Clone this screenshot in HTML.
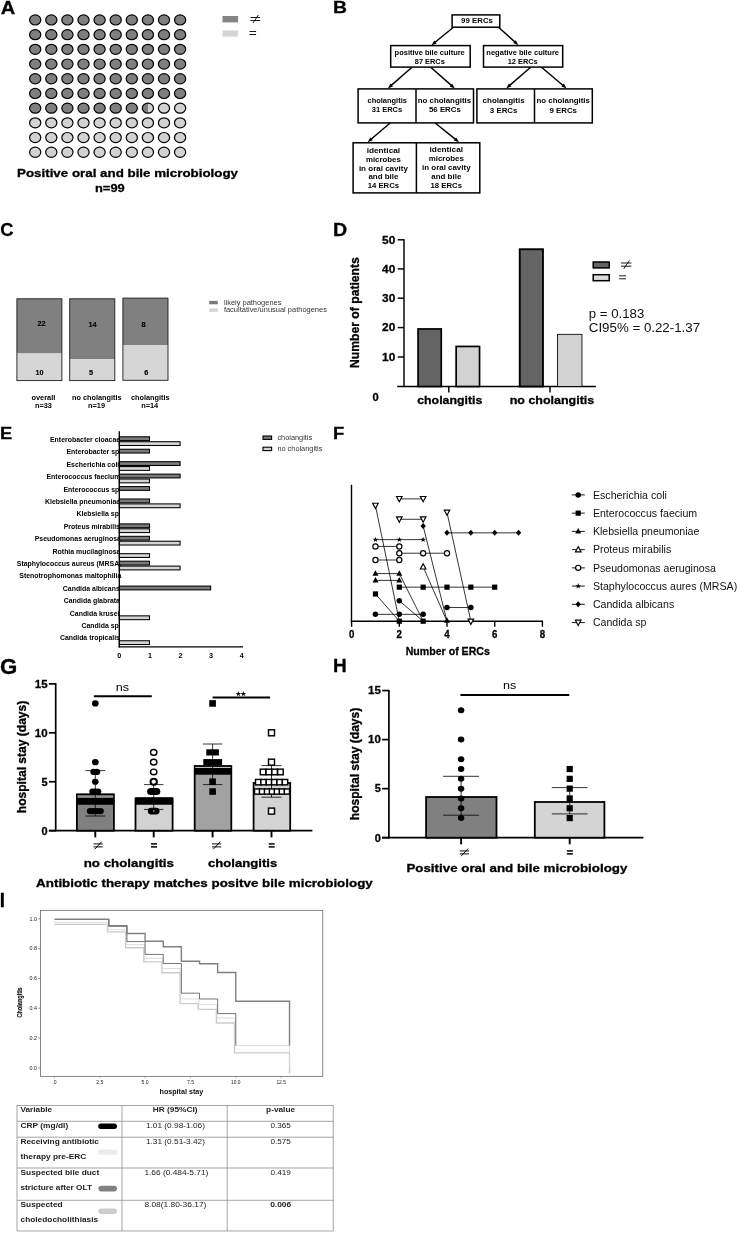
<!DOCTYPE html>
<html><head><meta charset="utf-8"><title>Figure</title>
<style>
html,body{margin:0;padding:0;background:#fff;}
svg{display:block;font-family:"Liberation Sans",sans-serif;filter:grayscale(1);}
</style></head><body>
<svg width="738" height="1239" viewBox="0 0 738 1239">
<rect x="0" y="0" width="738" height="1239" fill="#fff"/>
<text transform="translate(0.70 14.10) scale(0.2012 0.1875)" font-size="100" font-weight="700" stroke="#000" stroke-width="1.5">A</text>
<text transform="translate(333.00 13.45) scale(0.1934 0.1679)" font-size="100" font-weight="700" stroke="#000" stroke-width="1.5">B</text>
<text transform="translate(0.15 235.62) scale(0.1835 0.1808)" font-size="100" font-weight="700" stroke="#000" stroke-width="1.5">C</text>
<text transform="translate(332.99 235.80) scale(0.1958 0.1817)" font-size="100" font-weight="700" stroke="#000" stroke-width="1.5">D</text>
<text transform="translate(-0.03 438.70) scale(0.1836 0.1715)" font-size="100" font-weight="700" stroke="#000" stroke-width="1.5">E</text>
<text transform="translate(333.06 438.90) scale(0.1854 0.1730)" font-size="100" font-weight="700" stroke="#000" stroke-width="1.5">F</text>
<text transform="translate(-0.01 674.19) scale(0.2222 0.2119)" font-size="100" font-weight="700" stroke="#000" stroke-width="1.5">G</text>
<text transform="translate(333.02 671.90) scale(0.1905 0.1773)" font-size="100" font-weight="700" stroke="#000" stroke-width="1.5">H</text>
<text transform="translate(-0.26 906.80) scale(0.1875 0.2064)" font-size="100" font-weight="700" stroke="#000" stroke-width="1.5">I</text>
<defs><linearGradient id="half" x1="0" x2="1" y1="0" y2="0"><stop offset="0.5" stop-color="#7f7f7f"/><stop offset="0.5" stop-color="#d2d2d2"/></linearGradient></defs>
<ellipse cx="35.20" cy="19.95" rx="5.6" ry="5.05" fill="#7f7f7f" stroke="#000" stroke-width="1.2"/>
<ellipse cx="51.30" cy="19.95" rx="5.6" ry="5.05" fill="#7f7f7f" stroke="#000" stroke-width="1.2"/>
<ellipse cx="67.40" cy="19.95" rx="5.6" ry="5.05" fill="#7f7f7f" stroke="#000" stroke-width="1.2"/>
<ellipse cx="83.50" cy="19.95" rx="5.6" ry="5.05" fill="#7f7f7f" stroke="#000" stroke-width="1.2"/>
<ellipse cx="99.60" cy="19.95" rx="5.6" ry="5.05" fill="#7f7f7f" stroke="#000" stroke-width="1.2"/>
<ellipse cx="115.70" cy="19.95" rx="5.6" ry="5.05" fill="#7f7f7f" stroke="#000" stroke-width="1.2"/>
<ellipse cx="131.80" cy="19.95" rx="5.6" ry="5.05" fill="#7f7f7f" stroke="#000" stroke-width="1.2"/>
<ellipse cx="147.90" cy="19.95" rx="5.6" ry="5.05" fill="#7f7f7f" stroke="#000" stroke-width="1.2"/>
<ellipse cx="164.00" cy="19.95" rx="5.6" ry="5.05" fill="#7f7f7f" stroke="#000" stroke-width="1.2"/>
<ellipse cx="180.10" cy="19.95" rx="5.6" ry="5.05" fill="#7f7f7f" stroke="#000" stroke-width="1.2"/>
<ellipse cx="35.20" cy="34.65" rx="5.6" ry="5.05" fill="#7f7f7f" stroke="#000" stroke-width="1.2"/>
<ellipse cx="51.30" cy="34.65" rx="5.6" ry="5.05" fill="#7f7f7f" stroke="#000" stroke-width="1.2"/>
<ellipse cx="67.40" cy="34.65" rx="5.6" ry="5.05" fill="#7f7f7f" stroke="#000" stroke-width="1.2"/>
<ellipse cx="83.50" cy="34.65" rx="5.6" ry="5.05" fill="#7f7f7f" stroke="#000" stroke-width="1.2"/>
<ellipse cx="99.60" cy="34.65" rx="5.6" ry="5.05" fill="#7f7f7f" stroke="#000" stroke-width="1.2"/>
<ellipse cx="115.70" cy="34.65" rx="5.6" ry="5.05" fill="#7f7f7f" stroke="#000" stroke-width="1.2"/>
<ellipse cx="131.80" cy="34.65" rx="5.6" ry="5.05" fill="#7f7f7f" stroke="#000" stroke-width="1.2"/>
<ellipse cx="147.90" cy="34.65" rx="5.6" ry="5.05" fill="#7f7f7f" stroke="#000" stroke-width="1.2"/>
<ellipse cx="164.00" cy="34.65" rx="5.6" ry="5.05" fill="#7f7f7f" stroke="#000" stroke-width="1.2"/>
<ellipse cx="180.10" cy="34.65" rx="5.6" ry="5.05" fill="#7f7f7f" stroke="#000" stroke-width="1.2"/>
<ellipse cx="35.20" cy="49.35" rx="5.6" ry="5.05" fill="#7f7f7f" stroke="#000" stroke-width="1.2"/>
<ellipse cx="51.30" cy="49.35" rx="5.6" ry="5.05" fill="#7f7f7f" stroke="#000" stroke-width="1.2"/>
<ellipse cx="67.40" cy="49.35" rx="5.6" ry="5.05" fill="#7f7f7f" stroke="#000" stroke-width="1.2"/>
<ellipse cx="83.50" cy="49.35" rx="5.6" ry="5.05" fill="#7f7f7f" stroke="#000" stroke-width="1.2"/>
<ellipse cx="99.60" cy="49.35" rx="5.6" ry="5.05" fill="#7f7f7f" stroke="#000" stroke-width="1.2"/>
<ellipse cx="115.70" cy="49.35" rx="5.6" ry="5.05" fill="#7f7f7f" stroke="#000" stroke-width="1.2"/>
<ellipse cx="131.80" cy="49.35" rx="5.6" ry="5.05" fill="#7f7f7f" stroke="#000" stroke-width="1.2"/>
<ellipse cx="147.90" cy="49.35" rx="5.6" ry="5.05" fill="#7f7f7f" stroke="#000" stroke-width="1.2"/>
<ellipse cx="164.00" cy="49.35" rx="5.6" ry="5.05" fill="#7f7f7f" stroke="#000" stroke-width="1.2"/>
<ellipse cx="180.10" cy="49.35" rx="5.6" ry="5.05" fill="#7f7f7f" stroke="#000" stroke-width="1.2"/>
<ellipse cx="35.20" cy="64.05" rx="5.6" ry="5.05" fill="#7f7f7f" stroke="#000" stroke-width="1.2"/>
<ellipse cx="51.30" cy="64.05" rx="5.6" ry="5.05" fill="#7f7f7f" stroke="#000" stroke-width="1.2"/>
<ellipse cx="67.40" cy="64.05" rx="5.6" ry="5.05" fill="#7f7f7f" stroke="#000" stroke-width="1.2"/>
<ellipse cx="83.50" cy="64.05" rx="5.6" ry="5.05" fill="#7f7f7f" stroke="#000" stroke-width="1.2"/>
<ellipse cx="99.60" cy="64.05" rx="5.6" ry="5.05" fill="#7f7f7f" stroke="#000" stroke-width="1.2"/>
<ellipse cx="115.70" cy="64.05" rx="5.6" ry="5.05" fill="#7f7f7f" stroke="#000" stroke-width="1.2"/>
<ellipse cx="131.80" cy="64.05" rx="5.6" ry="5.05" fill="#7f7f7f" stroke="#000" stroke-width="1.2"/>
<ellipse cx="147.90" cy="64.05" rx="5.6" ry="5.05" fill="#7f7f7f" stroke="#000" stroke-width="1.2"/>
<ellipse cx="164.00" cy="64.05" rx="5.6" ry="5.05" fill="#7f7f7f" stroke="#000" stroke-width="1.2"/>
<ellipse cx="180.10" cy="64.05" rx="5.6" ry="5.05" fill="#7f7f7f" stroke="#000" stroke-width="1.2"/>
<ellipse cx="35.20" cy="78.75" rx="5.6" ry="5.05" fill="#7f7f7f" stroke="#000" stroke-width="1.2"/>
<ellipse cx="51.30" cy="78.75" rx="5.6" ry="5.05" fill="#7f7f7f" stroke="#000" stroke-width="1.2"/>
<ellipse cx="67.40" cy="78.75" rx="5.6" ry="5.05" fill="#7f7f7f" stroke="#000" stroke-width="1.2"/>
<ellipse cx="83.50" cy="78.75" rx="5.6" ry="5.05" fill="#7f7f7f" stroke="#000" stroke-width="1.2"/>
<ellipse cx="99.60" cy="78.75" rx="5.6" ry="5.05" fill="#7f7f7f" stroke="#000" stroke-width="1.2"/>
<ellipse cx="115.70" cy="78.75" rx="5.6" ry="5.05" fill="#7f7f7f" stroke="#000" stroke-width="1.2"/>
<ellipse cx="131.80" cy="78.75" rx="5.6" ry="5.05" fill="#7f7f7f" stroke="#000" stroke-width="1.2"/>
<ellipse cx="147.90" cy="78.75" rx="5.6" ry="5.05" fill="#7f7f7f" stroke="#000" stroke-width="1.2"/>
<ellipse cx="164.00" cy="78.75" rx="5.6" ry="5.05" fill="#7f7f7f" stroke="#000" stroke-width="1.2"/>
<ellipse cx="180.10" cy="78.75" rx="5.6" ry="5.05" fill="#7f7f7f" stroke="#000" stroke-width="1.2"/>
<ellipse cx="35.20" cy="93.45" rx="5.6" ry="5.05" fill="#7f7f7f" stroke="#000" stroke-width="1.2"/>
<ellipse cx="51.30" cy="93.45" rx="5.6" ry="5.05" fill="#7f7f7f" stroke="#000" stroke-width="1.2"/>
<ellipse cx="67.40" cy="93.45" rx="5.6" ry="5.05" fill="#7f7f7f" stroke="#000" stroke-width="1.2"/>
<ellipse cx="83.50" cy="93.45" rx="5.6" ry="5.05" fill="#7f7f7f" stroke="#000" stroke-width="1.2"/>
<ellipse cx="99.60" cy="93.45" rx="5.6" ry="5.05" fill="#7f7f7f" stroke="#000" stroke-width="1.2"/>
<ellipse cx="115.70" cy="93.45" rx="5.6" ry="5.05" fill="#7f7f7f" stroke="#000" stroke-width="1.2"/>
<ellipse cx="131.80" cy="93.45" rx="5.6" ry="5.05" fill="#7f7f7f" stroke="#000" stroke-width="1.2"/>
<ellipse cx="147.90" cy="93.45" rx="5.6" ry="5.05" fill="#7f7f7f" stroke="#000" stroke-width="1.2"/>
<ellipse cx="164.00" cy="93.45" rx="5.6" ry="5.05" fill="#7f7f7f" stroke="#000" stroke-width="1.2"/>
<ellipse cx="180.10" cy="93.45" rx="5.6" ry="5.05" fill="#7f7f7f" stroke="#000" stroke-width="1.2"/>
<ellipse cx="35.20" cy="108.15" rx="5.6" ry="5.05" fill="#7f7f7f" stroke="#000" stroke-width="1.2"/>
<ellipse cx="51.30" cy="108.15" rx="5.6" ry="5.05" fill="#7f7f7f" stroke="#000" stroke-width="1.2"/>
<ellipse cx="67.40" cy="108.15" rx="5.6" ry="5.05" fill="#7f7f7f" stroke="#000" stroke-width="1.2"/>
<ellipse cx="83.50" cy="108.15" rx="5.6" ry="5.05" fill="#7f7f7f" stroke="#000" stroke-width="1.2"/>
<ellipse cx="99.60" cy="108.15" rx="5.6" ry="5.05" fill="#7f7f7f" stroke="#000" stroke-width="1.2"/>
<ellipse cx="115.70" cy="108.15" rx="5.6" ry="5.05" fill="#7f7f7f" stroke="#000" stroke-width="1.2"/>
<ellipse cx="131.80" cy="108.15" rx="5.6" ry="5.05" fill="#7f7f7f" stroke="#000" stroke-width="1.2"/>
<ellipse cx="147.90" cy="108.15" rx="5.6" ry="5.05" fill="url(#half)" stroke="#000" stroke-width="1.2"/>
<ellipse cx="164.00" cy="108.15" rx="5.6" ry="5.05" fill="#d2d2d2" stroke="#000" stroke-width="1.2"/>
<ellipse cx="180.10" cy="108.15" rx="5.6" ry="5.05" fill="#d2d2d2" stroke="#000" stroke-width="1.2"/>
<ellipse cx="35.20" cy="122.85" rx="5.6" ry="5.05" fill="#d2d2d2" stroke="#000" stroke-width="1.2"/>
<ellipse cx="51.30" cy="122.85" rx="5.6" ry="5.05" fill="#d2d2d2" stroke="#000" stroke-width="1.2"/>
<ellipse cx="67.40" cy="122.85" rx="5.6" ry="5.05" fill="#d2d2d2" stroke="#000" stroke-width="1.2"/>
<ellipse cx="83.50" cy="122.85" rx="5.6" ry="5.05" fill="#d2d2d2" stroke="#000" stroke-width="1.2"/>
<ellipse cx="99.60" cy="122.85" rx="5.6" ry="5.05" fill="#d2d2d2" stroke="#000" stroke-width="1.2"/>
<ellipse cx="115.70" cy="122.85" rx="5.6" ry="5.05" fill="#d2d2d2" stroke="#000" stroke-width="1.2"/>
<ellipse cx="131.80" cy="122.85" rx="5.6" ry="5.05" fill="#d2d2d2" stroke="#000" stroke-width="1.2"/>
<ellipse cx="147.90" cy="122.85" rx="5.6" ry="5.05" fill="#d2d2d2" stroke="#000" stroke-width="1.2"/>
<ellipse cx="164.00" cy="122.85" rx="5.6" ry="5.05" fill="#d2d2d2" stroke="#000" stroke-width="1.2"/>
<ellipse cx="180.10" cy="122.85" rx="5.6" ry="5.05" fill="#d2d2d2" stroke="#000" stroke-width="1.2"/>
<ellipse cx="35.20" cy="137.55" rx="5.6" ry="5.05" fill="#d2d2d2" stroke="#000" stroke-width="1.2"/>
<ellipse cx="51.30" cy="137.55" rx="5.6" ry="5.05" fill="#d2d2d2" stroke="#000" stroke-width="1.2"/>
<ellipse cx="67.40" cy="137.55" rx="5.6" ry="5.05" fill="#d2d2d2" stroke="#000" stroke-width="1.2"/>
<ellipse cx="83.50" cy="137.55" rx="5.6" ry="5.05" fill="#d2d2d2" stroke="#000" stroke-width="1.2"/>
<ellipse cx="99.60" cy="137.55" rx="5.6" ry="5.05" fill="#d2d2d2" stroke="#000" stroke-width="1.2"/>
<ellipse cx="115.70" cy="137.55" rx="5.6" ry="5.05" fill="#d2d2d2" stroke="#000" stroke-width="1.2"/>
<ellipse cx="131.80" cy="137.55" rx="5.6" ry="5.05" fill="#d2d2d2" stroke="#000" stroke-width="1.2"/>
<ellipse cx="147.90" cy="137.55" rx="5.6" ry="5.05" fill="#d2d2d2" stroke="#000" stroke-width="1.2"/>
<ellipse cx="164.00" cy="137.55" rx="5.6" ry="5.05" fill="#d2d2d2" stroke="#000" stroke-width="1.2"/>
<ellipse cx="180.10" cy="137.55" rx="5.6" ry="5.05" fill="#d2d2d2" stroke="#000" stroke-width="1.2"/>
<ellipse cx="35.20" cy="152.25" rx="5.6" ry="5.05" fill="#d2d2d2" stroke="#000" stroke-width="1.2"/>
<ellipse cx="51.30" cy="152.25" rx="5.6" ry="5.05" fill="#d2d2d2" stroke="#000" stroke-width="1.2"/>
<ellipse cx="67.40" cy="152.25" rx="5.6" ry="5.05" fill="#d2d2d2" stroke="#000" stroke-width="1.2"/>
<ellipse cx="83.50" cy="152.25" rx="5.6" ry="5.05" fill="#d2d2d2" stroke="#000" stroke-width="1.2"/>
<ellipse cx="99.60" cy="152.25" rx="5.6" ry="5.05" fill="#d2d2d2" stroke="#000" stroke-width="1.2"/>
<ellipse cx="115.70" cy="152.25" rx="5.6" ry="5.05" fill="#d2d2d2" stroke="#000" stroke-width="1.2"/>
<ellipse cx="131.80" cy="152.25" rx="5.6" ry="5.05" fill="#d2d2d2" stroke="#000" stroke-width="1.2"/>
<ellipse cx="147.90" cy="152.25" rx="5.6" ry="5.05" fill="#d2d2d2" stroke="#000" stroke-width="1.2"/>
<ellipse cx="164.00" cy="152.25" rx="5.6" ry="5.05" fill="#d2d2d2" stroke="#000" stroke-width="1.2"/>
<ellipse cx="180.10" cy="152.25" rx="5.6" ry="5.05" fill="#d2d2d2" stroke="#000" stroke-width="1.2"/>
<rect x="222.50" y="16.00" width="15.60" height="6.40" fill="#858585" />
<rect x="222.50" y="30.50" width="15.60" height="6.10" fill="#d4d4d4" />
<line x1="250.50" y1="17.50" x2="260.10" y2="17.50" stroke="#000" stroke-width="0.9" />
<line x1="250.50" y1="20.50" x2="260.10" y2="20.50" stroke="#000" stroke-width="0.9" />
<line x1="253.00" y1="23.00" x2="258.37" y2="15.00" stroke="#000" stroke-width="0.9" />
<line x1="249.50" y1="31.50" x2="256.10" y2="31.50" stroke="#000" stroke-width="0.9" />
<line x1="249.50" y1="34.50" x2="256.10" y2="34.50" stroke="#000" stroke-width="0.9" />
<text x="17.00" y="177.00" font-size="11.3" font-weight="700" textLength="221.00" lengthAdjust="spacingAndGlyphs" stroke="#000" stroke-width="0.3" >Positive oral and bile microbiology</text>
<text x="95.00" y="192.20" font-size="11.2" font-weight="700" textLength="29.70" lengthAdjust="spacingAndGlyphs" stroke="#000" stroke-width="0.3" >n=99</text>
<rect x="452.10" y="14.90" width="47.70" height="12.30" fill="#fff" stroke="#000" stroke-width="1.5" />
<text x="461.05" y="23.40" font-size="7.3" font-weight="700" textLength="31.90" lengthAdjust="spacingAndGlyphs" >99 ERCs</text>
<rect x="390.70" y="45.60" width="79.50" height="21.50" fill="#fff" stroke="#000" stroke-width="1.5" />
<text x="394.60" y="55.20" font-size="7.0" font-weight="700" textLength="70.20" lengthAdjust="spacingAndGlyphs" >positive bile culture</text>
<text x="414.75" y="63.70" font-size="7.0" font-weight="700" textLength="30.10" lengthAdjust="spacingAndGlyphs" >87 ERCs</text>
<rect x="483.50" y="45.60" width="79.20" height="21.50" fill="#fff" stroke="#000" stroke-width="1.5" />
<text x="486.35" y="55.20" font-size="7.0" font-weight="700" textLength="72.70" lengthAdjust="spacingAndGlyphs" >negative bile culture</text>
<text x="507.70" y="63.70" font-size="7.0" font-weight="700" textLength="30.00" lengthAdjust="spacingAndGlyphs" >12 ERCs</text>
<rect x="358.10" y="88.90" width="115.40" height="34.00" fill="#fff" stroke="#000" stroke-width="1.5" />
<line x1="416.00" y1="88.90" x2="416.00" y2="122.90" stroke="#000" stroke-width="1.5" />
<rect x="476.90" y="88.90" width="115.40" height="34.00" fill="#fff" stroke="#000" stroke-width="1.5" />
<line x1="534.50" y1="88.90" x2="534.50" y2="122.90" stroke="#000" stroke-width="1.5" />
<text x="367.55" y="102.60" font-size="7.4" font-weight="700" textLength="39.30" lengthAdjust="spacingAndGlyphs" >cholangitis</text>
<text x="371.80" y="111.80" font-size="7.4" font-weight="700" textLength="30.40" lengthAdjust="spacingAndGlyphs" >31 ERCs</text>
<text x="417.70" y="102.60" font-size="7.4" font-weight="700" textLength="53.40" lengthAdjust="spacingAndGlyphs" >no cholangitis</text>
<text x="429.00" y="111.80" font-size="7.4" font-weight="700" textLength="31.80" lengthAdjust="spacingAndGlyphs" >56 ERCs</text>
<text x="482.60" y="103.40" font-size="7.6" font-weight="700" textLength="42.00" lengthAdjust="spacingAndGlyphs" >cholangitis</text>
<text x="489.85" y="112.70" font-size="7.6" font-weight="700" textLength="27.50" lengthAdjust="spacingAndGlyphs" >3 ERCs</text>
<text x="536.50" y="103.40" font-size="7.6" font-weight="700" textLength="53.40" lengthAdjust="spacingAndGlyphs" >no cholangitis</text>
<text x="549.45" y="112.70" font-size="7.6" font-weight="700" textLength="27.50" lengthAdjust="spacingAndGlyphs" >9 ERCs</text>
<rect x="353.10" y="142.80" width="126.70" height="50.10" fill="#fff" stroke="#000" stroke-width="1.5" />
<line x1="416.40" y1="142.80" x2="416.40" y2="192.90" stroke="#000" stroke-width="1.5" />
<text x="366.65" y="152.70" font-size="7.5" font-weight="700" textLength="33.50" lengthAdjust="spacingAndGlyphs" >identical</text>
<text x="365.90" y="161.60" font-size="7.5" font-weight="700" textLength="35.00" lengthAdjust="spacingAndGlyphs" >microbes</text>
<text x="358.90" y="170.50" font-size="7.5" font-weight="700" textLength="49.00" lengthAdjust="spacingAndGlyphs" >in oral cavity</text>
<text x="368.40" y="179.40" font-size="7.5" font-weight="700" textLength="30.00" lengthAdjust="spacingAndGlyphs" >and bile</text>
<text x="367.65" y="188.30" font-size="7.5" font-weight="700" textLength="31.50" lengthAdjust="spacingAndGlyphs" >14 ERCs</text>
<text x="429.55" y="152.20" font-size="7.5" font-weight="700" textLength="33.50" lengthAdjust="spacingAndGlyphs" >identical</text>
<text x="428.80" y="161.10" font-size="7.5" font-weight="700" textLength="35.00" lengthAdjust="spacingAndGlyphs" >microbes</text>
<text x="422.05" y="170.00" font-size="7.5" font-weight="700" textLength="48.50" lengthAdjust="spacingAndGlyphs" >in oral cavity</text>
<text x="431.30" y="178.90" font-size="7.5" font-weight="700" textLength="30.00" lengthAdjust="spacingAndGlyphs" >and bile</text>
<text x="430.55" y="187.80" font-size="7.5" font-weight="700" textLength="31.50" lengthAdjust="spacingAndGlyphs" >18 ERCs</text>
<line x1="453.50" y1="27.20" x2="434.75" y2="42.54" stroke="#000" stroke-width="1.45" />
<polygon points="431.50,45.20 434.32,40.44 436.73,43.38" fill="#000"/>
<line x1="498.50" y1="27.20" x2="515.29" y2="42.38" stroke="#000" stroke-width="1.45" />
<polygon points="518.40,45.20 513.27,43.12 515.82,40.30" fill="#000"/>
<line x1="412.00" y1="67.30" x2="390.97" y2="85.64" stroke="#000" stroke-width="1.45" />
<polygon points="387.80,88.40 390.47,83.55 392.97,86.41" fill="#000"/>
<line x1="430.70" y1="67.30" x2="451.64" y2="85.63" stroke="#000" stroke-width="1.45" />
<polygon points="454.80,88.40 449.64,86.40 452.14,83.55" fill="#000"/>
<line x1="530.70" y1="67.30" x2="509.38" y2="85.66" stroke="#000" stroke-width="1.45" />
<polygon points="506.20,88.40 508.90,83.57 511.38,86.45" fill="#000"/>
<line x1="541.50" y1="67.30" x2="563.39" y2="85.70" stroke="#000" stroke-width="1.45" />
<polygon points="566.60,88.40 561.40,86.51 563.84,83.60" fill="#000"/>
<line x1="390.10" y1="123.00" x2="370.79" y2="139.57" stroke="#000" stroke-width="1.45" />
<polygon points="367.60,142.30 370.31,137.47 372.78,140.36" fill="#000"/>
<line x1="435.20" y1="123.00" x2="455.83" y2="139.66" stroke="#000" stroke-width="1.45" />
<polygon points="459.10,142.30 453.86,140.51 456.25,137.55" fill="#000"/>
<rect x="16.90" y="298.80" width="45.00" height="54.70" fill="#808080" />
<rect x="16.90" y="353.50" width="45.00" height="27.10" fill="#d6d6d6" />
<rect x="16.90" y="298.80" width="45.00" height="81.80" fill="none" stroke="#1c1c1c" stroke-width="0.9" />
<rect x="69.70" y="298.80" width="45.10" height="60.40" fill="#808080" />
<rect x="69.70" y="359.20" width="45.10" height="21.40" fill="#d6d6d6" />
<rect x="69.70" y="298.80" width="45.10" height="81.80" fill="none" stroke="#1c1c1c" stroke-width="0.9" />
<rect x="122.90" y="298.10" width="45.10" height="47.20" fill="#808080" />
<rect x="122.90" y="345.30" width="45.10" height="35.00" fill="#d6d6d6" />
<rect x="122.90" y="298.10" width="45.10" height="82.20" fill="none" stroke="#1c1c1c" stroke-width="0.9" />
<text x="37.60" y="325.60" font-size="7.0" font-weight="700" textLength="8.00" lengthAdjust="spacingAndGlyphs" stroke="#000" stroke-width="0.15">22</text>
<text x="35.60" y="374.70" font-size="7.0" font-weight="700" textLength="8.00" lengthAdjust="spacingAndGlyphs" stroke="#000" stroke-width="0.15">10</text>
<text x="88.40" y="326.60" font-size="7.0" font-weight="700" textLength="8.00" lengthAdjust="spacingAndGlyphs" stroke="#000" stroke-width="0.15">14</text>
<text x="89.00" y="374.70" font-size="7.0" font-weight="700" textLength="4.10" lengthAdjust="spacingAndGlyphs" stroke="#000" stroke-width="0.15">5</text>
<text x="141.40" y="326.60" font-size="7.0" font-weight="700" textLength="4.10" lengthAdjust="spacingAndGlyphs" stroke="#000" stroke-width="0.15">8</text>
<text x="144.20" y="374.70" font-size="7.0" font-weight="700" textLength="4.10" lengthAdjust="spacingAndGlyphs" stroke="#000" stroke-width="0.15">6</text>
<text x="31.40" y="399.60" font-size="6.8" font-weight="700" textLength="24.00" lengthAdjust="spacingAndGlyphs" >overall</text>
<text x="34.90" y="407.60" font-size="6.8" font-weight="700" textLength="17.00" lengthAdjust="spacingAndGlyphs" >n=33</text>
<text x="72.00" y="399.60" font-size="6.8" font-weight="700" textLength="49.60" lengthAdjust="spacingAndGlyphs" >no cholangitis</text>
<text x="88.00" y="407.60" font-size="6.8" font-weight="700" textLength="17.00" lengthAdjust="spacingAndGlyphs" >n=19</text>
<text x="130.90" y="399.60" font-size="6.8" font-weight="700" textLength="38.60" lengthAdjust="spacingAndGlyphs" >cholangitis</text>
<text x="141.20" y="407.60" font-size="6.8" font-weight="700" textLength="17.00" lengthAdjust="spacingAndGlyphs" >n=14</text>
<rect x="209.20" y="300.90" width="8.60" height="3.40" fill="#7a7a7a" />
<rect x="209.20" y="308.40" width="8.60" height="3.40" fill="#d4d4d4" />
<text x="223.90" y="304.90" font-size="6.9" textLength="57.50" lengthAdjust="spacingAndGlyphs" fill="#333" >likely pathogenes</text>
<text x="223.90" y="312.40" font-size="6.9" textLength="103.00" lengthAdjust="spacingAndGlyphs" fill="#333" >facultative/unusual pathogenes</text>
<line x1="404.00" y1="239.20" x2="404.00" y2="387.10" stroke="#000" stroke-width="1.45" />
<line x1="397.20" y1="386.50" x2="595.80" y2="386.50" stroke="#000" stroke-width="1.45" />
<line x1="397.70" y1="239.80" x2="404.00" y2="239.80" stroke="#000" stroke-width="1.45" />
<text x="382.10" y="243.60" font-size="11.2" font-weight="700" textLength="13.20" lengthAdjust="spacingAndGlyphs" stroke="#000" stroke-width="0.3" >50</text>
<line x1="397.70" y1="268.90" x2="404.00" y2="268.90" stroke="#000" stroke-width="1.45" />
<text x="382.10" y="272.70" font-size="11.2" font-weight="700" textLength="13.20" lengthAdjust="spacingAndGlyphs" stroke="#000" stroke-width="0.3" >40</text>
<line x1="397.70" y1="298.20" x2="404.00" y2="298.20" stroke="#000" stroke-width="1.45" />
<text x="382.10" y="302.00" font-size="11.2" font-weight="700" textLength="13.20" lengthAdjust="spacingAndGlyphs" stroke="#000" stroke-width="0.3" >30</text>
<line x1="397.70" y1="327.60" x2="404.00" y2="327.60" stroke="#000" stroke-width="1.45" />
<text x="382.10" y="331.40" font-size="11.2" font-weight="700" textLength="13.20" lengthAdjust="spacingAndGlyphs" stroke="#000" stroke-width="0.3" >20</text>
<line x1="397.70" y1="357.00" x2="404.00" y2="357.00" stroke="#000" stroke-width="1.45" />
<text x="382.10" y="360.80" font-size="11.2" font-weight="700" textLength="13.20" lengthAdjust="spacingAndGlyphs" stroke="#000" stroke-width="0.3" >10</text>
<text x="372.60" y="400.60" font-size="11.2" font-weight="700" textLength="6.20" lengthAdjust="spacingAndGlyphs" stroke="#000" stroke-width="0.3" >0</text>
<rect x="418.05" y="328.95" width="23.20" height="57.55" fill="#646464" stroke="#000" stroke-width="1.7" />
<rect x="456.15" y="346.45" width="23.40" height="40.05" fill="#d2d2d2" stroke="#000" stroke-width="1.7" />
<rect x="519.75" y="249.25" width="23.20" height="137.25" fill="#646464" stroke="#000" stroke-width="1.9" />
<rect x="557.52" y="334.32" width="24.45" height="52.18" fill="#d2d2d2" stroke="#000" stroke-width="0.85" />
<line x1="448.80" y1="386.50" x2="448.80" y2="392.60" stroke="#000" stroke-width="1.45" />
<line x1="550.00" y1="386.50" x2="550.00" y2="392.60" stroke="#000" stroke-width="1.45" />
<text x="417.20" y="404.40" font-size="11.7" font-weight="700" textLength="65.20" lengthAdjust="spacingAndGlyphs" stroke="#000" stroke-width="0.3" >cholangitis</text>
<text x="509.70" y="404.40" font-size="11.7" font-weight="700" textLength="84.50" lengthAdjust="spacingAndGlyphs" stroke="#000" stroke-width="0.3" >no cholangitis</text>
<text transform="translate(359.20 367.90) scale(1.1 1) rotate(-90)" font-size="12.15" textLength="110.70" lengthAdjust="spacingAndGlyphs" font-weight="700" stroke="#000" stroke-width="0.3">Number of patients</text>
<rect x="593.20" y="262.00" width="16.00" height="5.90" fill="#646464" stroke="#000" stroke-width="1.5" />
<rect x="593.20" y="274.70" width="16.00" height="6.00" fill="#dcdcdc" stroke="#000" stroke-width="1.5" />
<line x1="621.00" y1="263.00" x2="631.40" y2="263.00" stroke="#000" stroke-width="0.9" />
<line x1="621.00" y1="266.20" x2="631.40" y2="266.20" stroke="#000" stroke-width="0.9" />
<line x1="623.70" y1="268.85" x2="629.53" y2="260.35" stroke="#000" stroke-width="0.9" />
<line x1="619.10" y1="275.80" x2="626.10" y2="275.80" stroke="#000" stroke-width="0.9" />
<line x1="619.10" y1="278.80" x2="626.10" y2="278.80" stroke="#000" stroke-width="0.9" />
<text x="588.80" y="317.80" font-size="12.3" textLength="55.50" lengthAdjust="spacingAndGlyphs" fill="#111" >p = 0.183</text>
<text x="588.80" y="331.90" font-size="12.3" textLength="111.30" lengthAdjust="spacingAndGlyphs" fill="#111" >CI95% = 0.22-1.37</text>
<text x="50.00" y="442.00" font-size="6.5" font-weight="700" textLength="70.10" lengthAdjust="spacingAndGlyphs" >Enterobacter cloacae</text>
<text x="66.50" y="454.40" font-size="6.5" font-weight="700" textLength="52.76" lengthAdjust="spacingAndGlyphs" >Enterobacter sp</text>
<text x="66.50" y="466.80" font-size="6.5" font-weight="700" textLength="52.77" lengthAdjust="spacingAndGlyphs" >Escherichia coli</text>
<text x="46.50" y="479.20" font-size="6.5" font-weight="700" textLength="73.94" lengthAdjust="spacingAndGlyphs" >Enterococcus faecium</text>
<text x="63.50" y="491.60" font-size="6.5" font-weight="700" textLength="55.84" lengthAdjust="spacingAndGlyphs" >Enterococcus sp</text>
<text x="45.00" y="504.00" font-size="6.5" font-weight="700" textLength="75.09" lengthAdjust="spacingAndGlyphs" >Klebsiella pneumoniae</text>
<text x="76.50" y="516.40" font-size="6.5" font-weight="700" textLength="42.37" lengthAdjust="spacingAndGlyphs" >Klebsiella sp</text>
<text x="63.70" y="528.80" font-size="6.5" font-weight="700" textLength="56.23" lengthAdjust="spacingAndGlyphs" >Proteus mirabilis</text>
<text x="34.70" y="541.20" font-size="6.5" font-weight="700" textLength="86.26" lengthAdjust="spacingAndGlyphs" >Pseudomonas aeruginosa</text>
<text x="52.60" y="553.60" font-size="6.5" font-weight="700" textLength="67.77" lengthAdjust="spacingAndGlyphs" >Rothia mucilaginosa</text>
<text x="16.80" y="566.00" font-size="6.5" font-weight="700" textLength="104.74" lengthAdjust="spacingAndGlyphs" >Staphylococcus aureus (MRSA)</text>
<text x="19.30" y="578.40" font-size="6.5" font-weight="700" textLength="102.02" lengthAdjust="spacingAndGlyphs" >Stenotrophomonas maltophilia</text>
<text x="62.80" y="590.80" font-size="6.5" font-weight="700" textLength="56.99" lengthAdjust="spacingAndGlyphs" >Candida albicans</text>
<text x="63.70" y="603.20" font-size="6.5" font-weight="700" textLength="56.22" lengthAdjust="spacingAndGlyphs" >Candida glabrata</text>
<text x="69.80" y="615.60" font-size="6.5" font-weight="700" textLength="49.68" lengthAdjust="spacingAndGlyphs" >Candida krusei</text>
<text x="81.50" y="628.00" font-size="6.5" font-weight="700" textLength="37.35" lengthAdjust="spacingAndGlyphs" >Candida sp</text>
<text x="59.90" y="640.40" font-size="6.5" font-weight="700" textLength="60.07" lengthAdjust="spacingAndGlyphs" >Candida tropicalis</text>
<rect x="119.30" y="436.80" width="30.20" height="3.80" fill="#7a7a7a" stroke="#000" stroke-width="1.05" />
<rect x="119.30" y="441.70" width="60.80" height="3.80" fill="#d4d4d4" stroke="#000" stroke-width="1.05" />
<rect x="119.30" y="449.24" width="30.20" height="3.80" fill="#7a7a7a" stroke="#000" stroke-width="1.05" />
<rect x="119.30" y="461.68" width="60.80" height="3.80" fill="#7a7a7a" stroke="#000" stroke-width="1.05" />
<rect x="119.30" y="466.58" width="30.20" height="3.80" fill="#d4d4d4" stroke="#000" stroke-width="1.05" />
<rect x="119.30" y="474.12" width="60.80" height="3.80" fill="#7a7a7a" stroke="#000" stroke-width="1.05" />
<rect x="119.30" y="479.02" width="30.20" height="3.80" fill="#d4d4d4" stroke="#000" stroke-width="1.05" />
<rect x="119.30" y="486.56" width="30.20" height="3.80" fill="#7a7a7a" stroke="#000" stroke-width="1.05" />
<rect x="119.30" y="499.00" width="30.20" height="3.80" fill="#7a7a7a" stroke="#000" stroke-width="1.05" />
<rect x="119.30" y="503.90" width="60.80" height="3.80" fill="#d4d4d4" stroke="#000" stroke-width="1.05" />
<rect x="119.30" y="523.88" width="30.20" height="3.80" fill="#7a7a7a" stroke="#000" stroke-width="1.05" />
<rect x="119.30" y="528.78" width="30.20" height="3.80" fill="#d4d4d4" stroke="#000" stroke-width="1.05" />
<rect x="119.30" y="536.32" width="30.20" height="3.80" fill="#7a7a7a" stroke="#000" stroke-width="1.05" />
<rect x="119.30" y="541.22" width="60.80" height="3.80" fill="#d4d4d4" stroke="#000" stroke-width="1.05" />
<rect x="119.30" y="553.66" width="30.20" height="3.80" fill="#d4d4d4" stroke="#000" stroke-width="1.05" />
<rect x="119.30" y="561.20" width="30.20" height="3.80" fill="#7a7a7a" stroke="#000" stroke-width="1.05" />
<rect x="119.30" y="566.10" width="60.80" height="3.80" fill="#d4d4d4" stroke="#000" stroke-width="1.05" />
<rect x="119.30" y="586.08" width="91.40" height="3.80" fill="#7a7a7a" stroke="#000" stroke-width="1.05" />
<rect x="119.30" y="615.86" width="30.20" height="3.80" fill="#d4d4d4" stroke="#000" stroke-width="1.05" />
<rect x="119.30" y="640.74" width="30.20" height="3.80" fill="#d4d4d4" stroke="#000" stroke-width="1.05" />
<line x1="119.30" y1="431.30" x2="119.30" y2="647.60" stroke="#000" stroke-width="1.35" />
<line x1="118.60" y1="646.90" x2="243.00" y2="646.90" stroke="#000" stroke-width="1.4" />
<text x="117.30" y="657.80" font-size="6.9" font-weight="700" textLength="4.00" lengthAdjust="spacingAndGlyphs" >0</text>
<text x="147.90" y="657.80" font-size="6.9" font-weight="700" textLength="4.00" lengthAdjust="spacingAndGlyphs" >1</text>
<text x="178.50" y="657.80" font-size="6.9" font-weight="700" textLength="4.00" lengthAdjust="spacingAndGlyphs" >2</text>
<text x="209.10" y="657.80" font-size="6.9" font-weight="700" textLength="4.00" lengthAdjust="spacingAndGlyphs" >3</text>
<text x="239.70" y="657.80" font-size="6.9" font-weight="700" textLength="4.00" lengthAdjust="spacingAndGlyphs" >4</text>
<rect x="263.00" y="436.00" width="8.60" height="3.40" fill="#7a7a7a" stroke="#000" stroke-width="1.1" />
<rect x="263.00" y="447.20" width="8.60" height="3.40" fill="#d4d4d4" stroke="#000" stroke-width="1.1" />
<text x="277.40" y="439.80" font-size="6.9" textLength="34.80" lengthAdjust="spacingAndGlyphs" fill="#333" >cholangitis</text>
<text x="277.40" y="450.80" font-size="6.9" textLength="45.00" lengthAdjust="spacingAndGlyphs" fill="#333" >no cholangitis</text>
<line x1="351.50" y1="484.80" x2="351.50" y2="622.00" stroke="#000" stroke-width="1.4" />
<line x1="350.80" y1="621.20" x2="543.00" y2="621.20" stroke="#000" stroke-width="1.6" />
<line x1="351.60" y1="621.20" x2="351.60" y2="626.80" stroke="#000" stroke-width="1.4" />
<text x="348.90" y="637.80" font-size="11.0" font-weight="700" textLength="5.40" lengthAdjust="spacingAndGlyphs" stroke="#000" stroke-width="0.3" >0</text>
<line x1="399.30" y1="621.20" x2="399.30" y2="626.80" stroke="#000" stroke-width="1.4" />
<text x="396.60" y="637.80" font-size="11.0" font-weight="700" textLength="5.40" lengthAdjust="spacingAndGlyphs" stroke="#000" stroke-width="0.3" >2</text>
<line x1="447.00" y1="621.20" x2="447.00" y2="626.80" stroke="#000" stroke-width="1.4" />
<text x="444.30" y="637.80" font-size="11.0" font-weight="700" textLength="5.40" lengthAdjust="spacingAndGlyphs" stroke="#000" stroke-width="0.3" >4</text>
<line x1="494.70" y1="621.20" x2="494.70" y2="626.80" stroke="#000" stroke-width="1.4" />
<text x="492.00" y="637.80" font-size="11.0" font-weight="700" textLength="5.40" lengthAdjust="spacingAndGlyphs" stroke="#000" stroke-width="0.3" >6</text>
<line x1="542.40" y1="621.20" x2="542.40" y2="626.80" stroke="#000" stroke-width="1.4" />
<text x="539.70" y="637.80" font-size="11.0" font-weight="700" textLength="5.40" lengthAdjust="spacingAndGlyphs" stroke="#000" stroke-width="0.3" >8</text>
<text x="405.70" y="654.90" font-size="11.8" font-weight="700" textLength="84.20" lengthAdjust="spacingAndGlyphs" stroke="#000" stroke-width="0.3" >Number of ERCs</text>
<polyline points="399.30,498.90 423.15,498.90" fill="none" stroke="#000" stroke-width="0.8"/>
<polyline points="375.45,505.69 399.30,621.20" fill="none" stroke="#000" stroke-width="0.8"/>
<polyline points="447.00,512.48 470.85,621.20" fill="none" stroke="#000" stroke-width="0.8"/>
<polyline points="399.30,519.27 423.15,519.27" fill="none" stroke="#000" stroke-width="0.8"/>
<polyline points="423.15,526.06 447.00,621.20" fill="none" stroke="#000" stroke-width="0.8"/>
<polyline points="447.00,532.85 470.85,532.85 494.70,532.85 518.55,532.85" fill="none" stroke="#000" stroke-width="0.8"/>
<polyline points="375.45,539.64 399.30,539.64 423.15,539.64" fill="none" stroke="#000" stroke-width="0.8"/>
<polyline points="375.45,546.43 399.30,546.43" fill="none" stroke="#000" stroke-width="0.8"/>
<polyline points="399.30,553.22 423.15,553.22 447.00,553.22" fill="none" stroke="#000" stroke-width="0.8"/>
<polyline points="375.45,560.01 399.30,560.01" fill="none" stroke="#000" stroke-width="0.8"/>
<polyline points="423.15,566.80 447.00,621.20" fill="none" stroke="#000" stroke-width="0.8"/>
<polyline points="375.45,573.59 399.30,573.59 423.15,621.20" fill="none" stroke="#000" stroke-width="0.8"/>
<polyline points="375.45,580.38 399.30,580.38" fill="none" stroke="#000" stroke-width="0.8"/>
<polyline points="399.30,587.17 423.15,587.17 447.00,587.17 470.85,587.17 494.70,587.17" fill="none" stroke="#000" stroke-width="0.8"/>
<polyline points="375.45,593.96 399.30,621.20" fill="none" stroke="#000" stroke-width="0.8"/>
<polyline points="399.30,600.75 423.15,621.20" fill="none" stroke="#000" stroke-width="0.8"/>
<polyline points="447.00,607.54 470.85,607.54" fill="none" stroke="#000" stroke-width="0.8"/>
<polyline points="375.45,614.33 399.30,614.33 423.15,614.33" fill="none" stroke="#000" stroke-width="0.8"/>
<polygon points="396.50,496.50 402.10,496.50 399.30,501.80" fill="#fff" stroke="#000" stroke-width="1.15"/>
<polygon points="420.35,496.50 425.95,496.50 423.15,501.80" fill="#fff" stroke="#000" stroke-width="1.15"/>
<polygon points="372.65,503.29 378.25,503.29 375.45,508.59" fill="#fff" stroke="#000" stroke-width="1.15"/>
<polygon points="444.20,510.08 449.80,510.08 447.00,515.38" fill="#fff" stroke="#000" stroke-width="1.15"/>
<polygon points="396.50,516.87 402.10,516.87 399.30,522.17" fill="#fff" stroke="#000" stroke-width="1.15"/>
<polygon points="420.35,516.87 425.95,516.87 423.15,522.17" fill="#fff" stroke="#000" stroke-width="1.15"/>
<polygon points="423.15,523.06 425.85,526.06 423.15,529.06 420.45,526.06" fill="#000"/>
<polygon points="447.00,529.85 449.70,532.85 447.00,535.85 444.30,532.85" fill="#000"/>
<polygon points="470.85,529.85 473.55,532.85 470.85,535.85 468.15,532.85" fill="#000"/>
<polygon points="494.70,529.85 497.40,532.85 494.70,535.85 492.00,532.85" fill="#000"/>
<polygon points="518.55,529.85 521.25,532.85 518.55,535.85 515.85,532.85" fill="#000"/>
<polygon points="375.45,536.64 376.13,538.71 378.30,538.71 376.54,540.00 377.21,542.07 375.45,540.79 373.69,542.07 374.36,540.00 372.60,538.71 374.77,538.71" fill="#000"/>
<polygon points="399.30,536.64 399.98,538.71 402.15,538.71 400.39,540.00 401.06,542.07 399.30,540.79 397.54,542.07 398.21,540.00 396.45,538.71 398.62,538.71" fill="#000"/>
<polygon points="423.15,536.64 423.83,538.71 426.00,538.71 424.24,540.00 424.91,542.07 423.15,540.79 421.39,542.07 422.06,540.00 420.30,538.71 422.47,538.71" fill="#000"/>
<circle cx="375.45" cy="546.43" r="2.6" fill="#fff" stroke="#000" stroke-width="1.2"/>
<circle cx="399.30" cy="546.43" r="2.6" fill="#fff" stroke="#000" stroke-width="1.2"/>
<circle cx="399.30" cy="553.22" r="2.6" fill="#fff" stroke="#000" stroke-width="1.2"/>
<circle cx="423.15" cy="553.22" r="2.6" fill="#fff" stroke="#000" stroke-width="1.2"/>
<circle cx="447.00" cy="553.22" r="2.6" fill="#fff" stroke="#000" stroke-width="1.2"/>
<circle cx="375.45" cy="560.01" r="2.6" fill="#fff" stroke="#000" stroke-width="1.2"/>
<circle cx="399.30" cy="560.01" r="2.6" fill="#fff" stroke="#000" stroke-width="1.2"/>
<polygon points="423.15,563.80 425.95,569.00 420.35,569.00" fill="#fff" stroke="#000" stroke-width="1.15" stroke-linejoin="miter"/>
<polygon points="375.45,570.29 378.45,575.79 372.45,575.79" fill="#000"/>
<polygon points="399.30,570.29 402.30,575.79 396.30,575.79" fill="#000"/>
<polygon points="375.45,577.08 378.45,582.58 372.45,582.58" fill="#000"/>
<polygon points="399.30,577.08 402.30,582.58 396.30,582.58" fill="#000"/>
<rect x="396.70" y="584.57" width="5.20" height="5.20" fill="#000" />
<rect x="420.55" y="584.57" width="5.20" height="5.20" fill="#000" />
<rect x="444.40" y="584.57" width="5.20" height="5.20" fill="#000" />
<rect x="468.25" y="584.57" width="5.20" height="5.20" fill="#000" />
<rect x="492.10" y="584.57" width="5.20" height="5.20" fill="#000" />
<rect x="372.85" y="591.36" width="5.20" height="5.20" fill="#000" />
<circle cx="399.30" cy="600.75" r="2.75" fill="#000"/>
<circle cx="447.00" cy="607.54" r="2.75" fill="#000"/>
<circle cx="470.85" cy="607.54" r="2.75" fill="#000"/>
<circle cx="375.45" cy="614.33" r="2.75" fill="#000"/>
<circle cx="399.30" cy="614.33" r="2.75" fill="#000"/>
<circle cx="423.15" cy="614.33" r="2.75" fill="#000"/>
<rect x="396.70" y="618.60" width="5.20" height="5.20" fill="#000" />
<rect x="420.55" y="618.60" width="5.20" height="5.20" fill="#000" />
<polygon points="447.00,617.30 450.00,622.80 444.00,622.80" fill="#000"/>
<polygon points="468.05,619.10 473.65,619.10 470.85,624.40" fill="#fff" stroke="#000" stroke-width="1.15"/>
<line x1="571.90" y1="494.90" x2="584.80" y2="494.90" stroke="#000" stroke-width="0.9" />
<circle cx="578.20" cy="494.90" r="2.75" fill="#000"/>
<text x="592.90" y="498.60" font-size="11.6" textLength="74.00" lengthAdjust="spacingAndGlyphs" fill="#111" >Escherichia coli</text>
<line x1="571.90" y1="513.14" x2="584.80" y2="513.14" stroke="#000" stroke-width="0.9" />
<rect x="575.60" y="510.54" width="5.20" height="5.20" fill="#000" />
<text x="592.90" y="516.84" font-size="11.6" textLength="104.30" lengthAdjust="spacingAndGlyphs" fill="#111" >Enterococcus faecium</text>
<line x1="571.90" y1="531.38" x2="584.80" y2="531.38" stroke="#000" stroke-width="0.9" />
<polygon points="578.20,528.08 581.20,533.58 575.20,533.58" fill="#000"/>
<text x="592.90" y="535.08" font-size="11.6" textLength="106.50" lengthAdjust="spacingAndGlyphs" fill="#111" >Klebsiella pneumoniae</text>
<line x1="571.90" y1="549.62" x2="584.80" y2="549.62" stroke="#000" stroke-width="0.9" />
<polygon points="578.20,546.62 581.00,551.82 575.40,551.82" fill="#fff" stroke="#000" stroke-width="1.15" stroke-linejoin="miter"/>
<text x="592.90" y="553.32" font-size="11.6" textLength="78.30" lengthAdjust="spacingAndGlyphs" fill="#111" >Proteus mirabilis</text>
<line x1="571.90" y1="567.86" x2="584.80" y2="567.86" stroke="#000" stroke-width="0.9" />
<circle cx="578.20" cy="567.86" r="2.6" fill="#fff" stroke="#000" stroke-width="1.2"/>
<text x="592.90" y="571.56" font-size="11.6" textLength="123.00" lengthAdjust="spacingAndGlyphs" fill="#111" >Pseudomonas aeruginosa</text>
<line x1="571.90" y1="586.10" x2="584.80" y2="586.10" stroke="#000" stroke-width="0.9" />
<polygon points="578.20,583.10 578.88,585.17 581.05,585.17 579.29,586.46 579.96,588.53 578.20,587.25 576.44,588.53 577.11,586.46 575.35,585.17 577.52,585.17" fill="#000"/>
<text x="592.90" y="589.80" font-size="11.6" textLength="144.30" lengthAdjust="spacingAndGlyphs" fill="#111" >Staphylococcus aures (MRSA)</text>
<line x1="571.90" y1="604.34" x2="584.80" y2="604.34" stroke="#000" stroke-width="0.9" />
<polygon points="578.20,601.34 580.90,604.34 578.20,607.34 575.50,604.34" fill="#000"/>
<text x="592.90" y="608.04" font-size="11.6" textLength="81.30" lengthAdjust="spacingAndGlyphs" fill="#111" >Candida albicans</text>
<line x1="571.90" y1="622.58" x2="584.80" y2="622.58" stroke="#000" stroke-width="0.9" />
<polygon points="575.40,620.18 581.00,620.18 578.20,625.48" fill="#fff" stroke="#000" stroke-width="1.15"/>
<text x="592.90" y="626.28" font-size="11.6" textLength="53.50" lengthAdjust="spacingAndGlyphs" fill="#111" >Candida sp</text>
<line x1="55.70" y1="683.10" x2="55.70" y2="831.40" stroke="#000" stroke-width="1.7" />
<line x1="48.90" y1="830.70" x2="312.40" y2="830.70" stroke="#000" stroke-width="1.7" />
<line x1="48.90" y1="683.85" x2="55.70" y2="683.85" stroke="#000" stroke-width="1.7" />
<text x="34.80" y="687.65" font-size="11.2" font-weight="700" textLength="12.80" lengthAdjust="spacingAndGlyphs" stroke="#000" stroke-width="0.3" >15</text>
<line x1="48.90" y1="732.80" x2="55.70" y2="732.80" stroke="#000" stroke-width="1.7" />
<text x="34.80" y="736.60" font-size="11.2" font-weight="700" textLength="12.80" lengthAdjust="spacingAndGlyphs" stroke="#000" stroke-width="0.3" >10</text>
<line x1="48.90" y1="781.75" x2="55.70" y2="781.75" stroke="#000" stroke-width="1.7" />
<text x="41.50" y="785.55" font-size="11.2" font-weight="700" textLength="6.10" lengthAdjust="spacingAndGlyphs" stroke="#000" stroke-width="0.3" >5</text>
<line x1="48.90" y1="830.70" x2="55.70" y2="830.70" stroke="#000" stroke-width="1.7" />
<text x="41.50" y="834.50" font-size="11.2" font-weight="700" textLength="6.10" lengthAdjust="spacingAndGlyphs" stroke="#000" stroke-width="0.3" >0</text>
<text transform="translate(26.10 813.20) scale(1.1 1) rotate(-90)" font-size="12.05" textLength="112.50" lengthAdjust="spacingAndGlyphs" font-weight="700" stroke="#000" stroke-width="0.3">hospital stay (days)</text>
<rect x="76.90" y="794.30" width="37.00" height="36.40" fill="#808080" stroke="#000" stroke-width="1.8" />
<rect x="76.50" y="797.93" width="37.80" height="6.80" fill="#000" rx="1" />
<line x1="77.50" y1="796.30" x2="113.50" y2="796.30" stroke="#9a9a9a" stroke-width="0.9" />
<line x1="95.30" y1="770.60" x2="95.30" y2="816.00" stroke="#000" stroke-width="0.8" />
<line x1="85.50" y1="770.60" x2="105.10" y2="770.60" stroke="#000" stroke-width="0.8" />
<line x1="85.50" y1="816.00" x2="105.10" y2="816.00" stroke="#000" stroke-width="0.8" />
<ellipse cx="95.30" cy="703.43" rx="3.35" ry="3.1" fill="#000"/>
<ellipse cx="95.30" cy="762.17" rx="3.35" ry="3.1" fill="#000"/>
<ellipse cx="93.70" cy="771.96" rx="3.35" ry="3.1" fill="#000"/>
<ellipse cx="96.90" cy="771.96" rx="3.35" ry="3.1" fill="#000"/>
<ellipse cx="95.30" cy="781.75" rx="3.35" ry="3.1" fill="#000"/>
<ellipse cx="92.60" cy="791.54" rx="3.35" ry="3.1" fill="#000"/>
<ellipse cx="95.30" cy="791.54" rx="3.35" ry="3.1" fill="#000"/>
<ellipse cx="98.00" cy="791.54" rx="3.35" ry="3.1" fill="#000"/>
<ellipse cx="90.10" cy="811.12" rx="3.35" ry="3.1" fill="#000"/>
<ellipse cx="93.50" cy="811.12" rx="3.35" ry="3.1" fill="#000"/>
<ellipse cx="97.10" cy="811.12" rx="3.35" ry="3.1" fill="#000"/>
<ellipse cx="100.50" cy="811.12" rx="3.35" ry="3.1" fill="#000"/>
<rect x="135.50" y="798.60" width="37.10" height="32.10" fill="#d2d2d2" stroke="#000" stroke-width="1.8" />
<rect x="135.00" y="797.30" width="38.10" height="7.40" fill="#000" rx="0.5" />
<line x1="153.70" y1="784.60" x2="153.70" y2="809.40" stroke="#000" stroke-width="0.8" />
<line x1="144.00" y1="784.60" x2="163.40" y2="784.60" stroke="#000" stroke-width="0.8" />
<line x1="144.00" y1="809.40" x2="163.40" y2="809.40" stroke="#000" stroke-width="0.8" />
<ellipse cx="153.70" cy="752.38" rx="3.19" ry="2.85" fill="#fff" stroke="#000" stroke-width="1.4"/>
<ellipse cx="153.70" cy="762.17" rx="3.19" ry="2.85" fill="#fff" stroke="#000" stroke-width="1.4"/>
<ellipse cx="153.70" cy="771.96" rx="3.19" ry="2.85" fill="#fff" stroke="#000" stroke-width="1.4"/>
<ellipse cx="153.70" cy="781.75" rx="3.2" ry="2.9" fill="#fff" stroke="#000" stroke-width="2.0"/>
<rect x="147.10" y="788.04" width="13.20" height="7.00" fill="#000" rx="3.5" />
<rect x="147.80" y="807.72" width="11.80" height="6.80" fill="#000" rx="3.4" />
<circle cx="153.70" cy="811.12" r="0.9" fill="#888"/>
<rect x="194.70" y="766.00" width="36.60" height="64.70" fill="#a2a2a2" stroke="#000" stroke-width="1.8" />
<rect x="194.50" y="768.00" width="37.00" height="6.70" fill="#000" />
<line x1="195.20" y1="767.50" x2="230.80" y2="767.50" stroke="#c8c8c8" stroke-width="0.8" />
<line x1="212.60" y1="744.00" x2="212.60" y2="784.60" stroke="#000" stroke-width="0.8" />
<line x1="202.90" y1="744.00" x2="222.30" y2="744.00" stroke="#000" stroke-width="0.8" />
<line x1="202.90" y1="784.60" x2="222.30" y2="784.60" stroke="#000" stroke-width="0.8" />
<rect x="209.30" y="700.13" width="6.60" height="6.60" fill="#000" />
<rect x="206.30" y="749.28" width="12.60" height="6.20" fill="#000" />
<rect x="203.30" y="759.07" width="18.80" height="6.20" fill="#000" />
<rect x="209.30" y="778.45" width="6.60" height="6.60" fill="#000" />
<rect x="209.30" y="788.24" width="6.60" height="6.60" fill="#000" />
<rect x="253.60" y="783.00" width="36.60" height="47.70" fill="#d4d4d4" stroke="#000" stroke-width="1.8" />
<line x1="271.50" y1="765.60" x2="271.50" y2="797.20" stroke="#000" stroke-width="0.8" />
<line x1="261.50" y1="765.60" x2="281.50" y2="765.60" stroke="#000" stroke-width="0.8" />
<line x1="261.50" y1="797.20" x2="281.50" y2="797.20" stroke="#000" stroke-width="0.8" />
<rect x="268.50" y="729.80" width="6.00" height="6.00" fill="#fff" stroke="#000" stroke-width="1.45" />
<rect x="268.50" y="759.17" width="6.00" height="6.00" fill="#fff" stroke="#000" stroke-width="1.45" />
<rect x="260.30" y="769.16" width="5.60" height="5.60" fill="#fff" stroke="#000" stroke-width="1.45" />
<rect x="266.07" y="769.16" width="5.60" height="5.60" fill="#fff" stroke="#000" stroke-width="1.45" />
<rect x="271.84" y="769.16" width="5.60" height="5.60" fill="#fff" stroke="#000" stroke-width="1.45" />
<rect x="277.61" y="769.16" width="5.60" height="5.60" fill="#fff" stroke="#000" stroke-width="1.45" />
<rect x="255.50" y="779.45" width="5.40" height="5.40" fill="#fff" stroke="#000" stroke-width="1.45" />
<rect x="260.86" y="779.45" width="5.40" height="5.40" fill="#fff" stroke="#000" stroke-width="1.45" />
<rect x="266.22" y="779.45" width="5.40" height="5.40" fill="#fff" stroke="#000" stroke-width="1.45" />
<rect x="271.58" y="779.45" width="5.40" height="5.40" fill="#fff" stroke="#000" stroke-width="1.45" />
<rect x="276.94" y="779.45" width="5.40" height="5.40" fill="#fff" stroke="#000" stroke-width="1.45" />
<rect x="282.30" y="779.45" width="5.40" height="5.40" fill="#fff" stroke="#000" stroke-width="1.45" />
<rect x="254.50" y="788.94" width="5.20" height="5.20" fill="#fff" stroke="#000" stroke-width="1.45" />
<rect x="259.47" y="788.94" width="5.20" height="5.20" fill="#fff" stroke="#000" stroke-width="1.45" />
<rect x="264.44" y="788.94" width="5.20" height="5.20" fill="#fff" stroke="#000" stroke-width="1.45" />
<rect x="269.41" y="788.94" width="5.20" height="5.20" fill="#fff" stroke="#000" stroke-width="1.45" />
<rect x="274.38" y="788.94" width="5.20" height="5.20" fill="#fff" stroke="#000" stroke-width="1.45" />
<rect x="279.35" y="788.94" width="5.20" height="5.20" fill="#fff" stroke="#000" stroke-width="1.45" />
<rect x="284.32" y="788.94" width="5.20" height="5.20" fill="#fff" stroke="#000" stroke-width="1.45" />
<rect x="268.50" y="808.12" width="6.00" height="6.00" fill="#fff" stroke="#000" stroke-width="1.45" />
<line x1="93.90" y1="696.30" x2="151.80" y2="696.30" stroke="#000" stroke-width="2.0" />
<text x="115.80" y="691.30" font-size="11.4" textLength="13.30" lengthAdjust="spacingAndGlyphs" >ns</text>
<line x1="212.60" y1="697.60" x2="270.00" y2="697.60" stroke="#000" stroke-width="2.0" />
<polygon points="238.40,691.10 239.11,692.97 241.20,693.03 239.55,694.26 240.13,696.17 238.40,695.05 236.67,696.17 237.25,694.26 235.60,693.03 237.69,692.97" fill="#111"/>
<polygon points="243.40,691.10 244.11,692.97 246.20,693.03 244.55,694.26 245.13,696.17 243.40,695.05 241.67,696.17 242.25,694.26 240.60,693.03 242.69,692.97" fill="#111"/>
<line x1="95.30" y1="830.70" x2="95.30" y2="837.40" stroke="#000" stroke-width="1.9" />
<line x1="153.70" y1="830.70" x2="153.70" y2="837.40" stroke="#000" stroke-width="1.9" />
<line x1="212.60" y1="830.70" x2="212.60" y2="837.40" stroke="#000" stroke-width="1.9" />
<line x1="271.50" y1="830.70" x2="271.50" y2="837.40" stroke="#000" stroke-width="1.9" />
<line x1="93.50" y1="843.92" x2="102.70" y2="843.92" stroke="#000" stroke-width="0.95" />
<line x1="93.50" y1="846.88" x2="102.70" y2="846.88" stroke="#000" stroke-width="0.95" />
<line x1="94.79" y1="849.20" x2="101.78" y2="841.60" stroke="#000" stroke-width="0.95" />
<line x1="151.00" y1="843.92" x2="157.00" y2="843.92" stroke="#000" stroke-width="1.5" />
<line x1="151.00" y1="846.88" x2="157.00" y2="846.88" stroke="#000" stroke-width="1.5" />
<line x1="212.00" y1="843.92" x2="221.20" y2="843.92" stroke="#000" stroke-width="0.95" />
<line x1="212.00" y1="846.88" x2="221.20" y2="846.88" stroke="#000" stroke-width="0.95" />
<line x1="213.29" y1="849.20" x2="220.28" y2="841.60" stroke="#000" stroke-width="0.95" />
<line x1="268.70" y1="843.92" x2="274.70" y2="843.92" stroke="#000" stroke-width="1.5" />
<line x1="268.70" y1="846.88" x2="274.70" y2="846.88" stroke="#000" stroke-width="1.5" />
<text x="83.70" y="867.10" font-size="11.4" font-weight="700" textLength="90.30" lengthAdjust="spacingAndGlyphs" stroke="#000" stroke-width="0.3" >no cholangitis</text>
<text x="208.00" y="867.10" font-size="11.4" font-weight="700" textLength="69.20" lengthAdjust="spacingAndGlyphs" stroke="#000" stroke-width="0.3" >cholangitis</text>
<text x="36.10" y="886.60" font-size="11.2" font-weight="700" textLength="336.70" lengthAdjust="spacingAndGlyphs" stroke="#000" stroke-width="0.3" >Antibiotic therapy matches positve bile microbiology</text>
<line x1="388.90" y1="689.90" x2="388.90" y2="838.40" stroke="#000" stroke-width="1.7" />
<line x1="382.10" y1="837.70" x2="643.40" y2="837.70" stroke="#000" stroke-width="1.7" />
<line x1="382.10" y1="690.55" x2="388.90" y2="690.55" stroke="#000" stroke-width="1.7" />
<text x="368.00" y="694.35" font-size="11.2" font-weight="700" textLength="12.80" lengthAdjust="spacingAndGlyphs" stroke="#000" stroke-width="0.3" >15</text>
<line x1="382.10" y1="739.60" x2="388.90" y2="739.60" stroke="#000" stroke-width="1.7" />
<text x="368.00" y="743.40" font-size="11.2" font-weight="700" textLength="12.80" lengthAdjust="spacingAndGlyphs" stroke="#000" stroke-width="0.3" >10</text>
<line x1="382.10" y1="788.65" x2="388.90" y2="788.65" stroke="#000" stroke-width="1.7" />
<text x="374.70" y="792.45" font-size="11.2" font-weight="700" textLength="6.10" lengthAdjust="spacingAndGlyphs" stroke="#000" stroke-width="0.3" >5</text>
<line x1="382.10" y1="837.70" x2="388.90" y2="837.70" stroke="#000" stroke-width="1.7" />
<text x="374.70" y="841.50" font-size="11.2" font-weight="700" textLength="6.10" lengthAdjust="spacingAndGlyphs" stroke="#000" stroke-width="0.3" >0</text>
<text transform="translate(358.60 820.20) scale(1.1 1) rotate(-90)" font-size="12.05" textLength="112.50" lengthAdjust="spacingAndGlyphs" font-weight="700" stroke="#000" stroke-width="0.3">hospital stay (days)</text>
<rect x="426.10" y="797.00" width="70.40" height="40.70" fill="#808080" stroke="#000" stroke-width="1.8" />
<rect x="534.80" y="802.00" width="69.60" height="35.70" fill="#d4d4d4" stroke="#000" stroke-width="1.8" />
<line x1="461.10" y1="776.30" x2="461.10" y2="815.20" stroke="#000" stroke-width="0.8" />
<line x1="443.10" y1="776.30" x2="479.10" y2="776.30" stroke="#000" stroke-width="0.8" />
<line x1="443.10" y1="815.20" x2="479.10" y2="815.20" stroke="#000" stroke-width="0.8" />
<line x1="569.70" y1="787.60" x2="569.70" y2="813.90" stroke="#000" stroke-width="0.8" />
<line x1="551.80" y1="787.60" x2="587.60" y2="787.60" stroke="#000" stroke-width="0.8" />
<line x1="551.80" y1="813.90" x2="587.60" y2="813.90" stroke="#000" stroke-width="0.8" />
<ellipse cx="461.10" cy="710.17" rx="3.24" ry="3.0" fill="#000"/>
<ellipse cx="461.10" cy="739.60" rx="3.24" ry="3.0" fill="#000"/>
<ellipse cx="461.10" cy="759.22" rx="3.24" ry="3.0" fill="#000"/>
<ellipse cx="461.10" cy="769.03" rx="3.24" ry="3.0" fill="#000"/>
<ellipse cx="461.10" cy="778.84" rx="3.24" ry="3.0" fill="#000"/>
<ellipse cx="461.10" cy="788.65" rx="3.24" ry="3.0" fill="#000"/>
<ellipse cx="461.10" cy="798.46" rx="3.24" ry="3.0" fill="#000"/>
<ellipse cx="461.10" cy="808.27" rx="3.24" ry="3.0" fill="#000"/>
<ellipse cx="461.10" cy="818.08" rx="3.24" ry="3.0" fill="#000"/>
<rect x="566.60" y="765.93" width="6.20" height="6.20" fill="#000" />
<rect x="566.60" y="775.74" width="6.20" height="6.20" fill="#000" />
<rect x="566.60" y="785.55" width="6.20" height="6.20" fill="#000" />
<rect x="566.60" y="795.36" width="6.20" height="6.20" fill="#000" />
<rect x="566.60" y="805.17" width="6.20" height="6.20" fill="#000" />
<rect x="566.60" y="814.98" width="6.20" height="6.20" fill="#000" />
<line x1="460.40" y1="694.90" x2="569.30" y2="694.90" stroke="#000" stroke-width="2.0" />
<text x="503.00" y="689.30" font-size="11.4" textLength="13.30" lengthAdjust="spacingAndGlyphs" >ns</text>
<line x1="461.10" y1="837.70" x2="461.10" y2="844.30" stroke="#000" stroke-width="1.9" />
<line x1="569.70" y1="837.70" x2="569.70" y2="844.30" stroke="#000" stroke-width="1.9" />
<line x1="459.80" y1="850.92" x2="469.00" y2="850.92" stroke="#000" stroke-width="0.95" />
<line x1="459.80" y1="853.88" x2="469.00" y2="853.88" stroke="#000" stroke-width="0.95" />
<line x1="461.09" y1="856.20" x2="468.08" y2="848.60" stroke="#000" stroke-width="0.95" />
<line x1="566.90" y1="850.92" x2="572.90" y2="850.92" stroke="#000" stroke-width="1.5" />
<line x1="566.90" y1="853.88" x2="572.90" y2="853.88" stroke="#000" stroke-width="1.5" />
<text x="406.40" y="872.30" font-size="11.3" font-weight="700" textLength="221.00" lengthAdjust="spacingAndGlyphs" stroke="#000" stroke-width="0.3" >Positive oral and bile microbiology</text>
<rect x="40.40" y="910.30" width="282.40" height="166.00" fill="#fff" stroke="#555" stroke-width="0.7" />
<line x1="38.40" y1="918.90" x2="40.40" y2="918.90" stroke="#555" stroke-width="0.7" />
<text x="29.60" y="920.50" font-size="4.6" textLength="7.50" lengthAdjust="spacingAndGlyphs" fill="#1a1a1a" >1.0</text>
<line x1="38.40" y1="948.80" x2="40.40" y2="948.80" stroke="#555" stroke-width="0.7" />
<text x="29.60" y="950.40" font-size="4.6" textLength="7.50" lengthAdjust="spacingAndGlyphs" fill="#1a1a1a" >0.8</text>
<line x1="38.40" y1="978.60" x2="40.40" y2="978.60" stroke="#555" stroke-width="0.7" />
<text x="29.60" y="980.20" font-size="4.6" textLength="7.50" lengthAdjust="spacingAndGlyphs" fill="#1a1a1a" >0.6</text>
<line x1="38.40" y1="1008.20" x2="40.40" y2="1008.20" stroke="#555" stroke-width="0.7" />
<text x="29.60" y="1009.80" font-size="4.6" textLength="7.50" lengthAdjust="spacingAndGlyphs" fill="#1a1a1a" >0.4</text>
<line x1="38.40" y1="1038.00" x2="40.40" y2="1038.00" stroke="#555" stroke-width="0.7" />
<text x="29.60" y="1039.60" font-size="4.6" textLength="7.50" lengthAdjust="spacingAndGlyphs" fill="#1a1a1a" >0.2</text>
<line x1="38.40" y1="1068.00" x2="40.40" y2="1068.00" stroke="#555" stroke-width="0.7" />
<text x="29.60" y="1069.60" font-size="4.6" textLength="7.50" lengthAdjust="spacingAndGlyphs" fill="#1a1a1a" >0.0</text>
<line x1="54.40" y1="1076.30" x2="54.40" y2="1077.80" stroke="#555" stroke-width="0.6" />
<text x="52.30" y="1084.40" font-size="4.6" textLength="4.20" lengthAdjust="spacingAndGlyphs" fill="#1a1a1a" >.0</text>
<line x1="99.75" y1="1076.30" x2="99.75" y2="1077.80" stroke="#555" stroke-width="0.6" />
<text x="96.25" y="1084.40" font-size="4.6" textLength="7.00" lengthAdjust="spacingAndGlyphs" fill="#1a1a1a" >2.5</text>
<line x1="145.10" y1="1076.30" x2="145.10" y2="1077.80" stroke="#555" stroke-width="0.6" />
<text x="141.60" y="1084.40" font-size="4.6" textLength="7.00" lengthAdjust="spacingAndGlyphs" fill="#1a1a1a" >5.0</text>
<line x1="190.45" y1="1076.30" x2="190.45" y2="1077.80" stroke="#555" stroke-width="0.6" />
<text x="186.95" y="1084.40" font-size="4.6" textLength="7.00" lengthAdjust="spacingAndGlyphs" fill="#1a1a1a" >7.5</text>
<line x1="235.80" y1="1076.30" x2="235.80" y2="1077.80" stroke="#555" stroke-width="0.6" />
<text x="231.10" y="1084.40" font-size="4.6" textLength="9.40" lengthAdjust="spacingAndGlyphs" fill="#1a1a1a" >10.0</text>
<line x1="281.15" y1="1076.30" x2="281.15" y2="1077.80" stroke="#555" stroke-width="0.6" />
<text x="276.45" y="1084.40" font-size="4.6" textLength="9.40" lengthAdjust="spacingAndGlyphs" fill="#1a1a1a" >12.5</text>
<text transform="translate(22.30 1017.50) scale(1.4 1) rotate(-90)" font-size="5.55" textLength="30.20" lengthAdjust="spacingAndGlyphs" font-weight="700" stroke="#000" stroke-width="0.12" fill="#1a1a1a">Cholangitis</text>
<text x="159.50" y="1093.50" font-size="6.7" font-weight="700" textLength="43.80" lengthAdjust="spacingAndGlyphs" fill="#111" >hospital stay</text>
<path d="M54.40,924.30 H107.52 V931.80 H125.66 V947.70 H143.80 V961.90 H161.94 V972.70 H180.08 V1003.60 H198.22 V1009.40 H216.36 V1023.00 H234.50 V1052.80 H289.52 V1073.50" fill="none" stroke="#cbcbcb" stroke-width="1.35"/>
<path d="M54.40,922.30 H108.22 V929.80 H126.36 V944.60 H144.50 V958.30 H162.64 V968.60 H180.78 V998.90 H198.92 V1004.60 H217.06 V1018.00 H235.20 V1045.60 H289.52 V1066.00" fill="none" stroke="#dadada" stroke-width="0.95"/>
<path d="M108.82,919.90 H108.82 V926.30 H126.96 V941.60 H145.10 V954.40 H163.24 V963.50 H181.38 V993.20 H199.52 V999.00 H217.66 V1013.60 H235.80 V1045.40" fill="none" stroke="#484848" stroke-width="0.75"/>
<path d="M54.40,919.20 H108.82 V925.70 H126.96 V933.50 H145.10 V941.20 H163.24 V946.70 H181.38 V961.30 H199.52 V963.80 H217.66 V972.50 H235.80 V1001.30 H289.52 V1045.60" fill="none" stroke="#808080" stroke-width="1.4"/>
<rect x="17.00" y="1105.50" width="316.20" height="125.50" fill="none" stroke="#808080" stroke-width="0.7" />
<line x1="122.00" y1="1105.50" x2="122.00" y2="1231.00" stroke="#808080" stroke-width="0.7" />
<line x1="227.20" y1="1105.50" x2="227.20" y2="1231.00" stroke="#808080" stroke-width="0.7" />
<line x1="17.00" y1="1121.30" x2="333.20" y2="1121.30" stroke="#808080" stroke-width="0.7" />
<line x1="17.00" y1="1137.20" x2="333.20" y2="1137.20" stroke="#808080" stroke-width="0.7" />
<line x1="17.00" y1="1168.00" x2="333.20" y2="1168.00" stroke="#808080" stroke-width="0.7" />
<line x1="17.00" y1="1200.30" x2="333.20" y2="1200.30" stroke="#808080" stroke-width="0.7" />
<text x="20.50" y="1112.20" font-size="7.3" font-weight="700" textLength="31.60" lengthAdjust="spacingAndGlyphs" fill="#222" >Variable</text>
<text x="20.50" y="1128.30" font-size="7.3" font-weight="700" textLength="47.70" lengthAdjust="spacingAndGlyphs" fill="#222" >CRP (mg/dl)</text>
<text x="20.50" y="1144.10" font-size="7.3" font-weight="700" textLength="78.50" lengthAdjust="spacingAndGlyphs" fill="#222" >Receiving antibiotic</text>
<text x="20.50" y="1159.20" font-size="7.3" font-weight="700" textLength="65.80" lengthAdjust="spacingAndGlyphs" fill="#222" >therapy pre-ERC</text>
<text x="20.50" y="1175.20" font-size="7.3" font-weight="700" textLength="78.80" lengthAdjust="spacingAndGlyphs" fill="#222" >Suspected bile duct</text>
<text x="20.50" y="1190.30" font-size="7.3" font-weight="700" textLength="71.50" lengthAdjust="spacingAndGlyphs" fill="#222" >stricture after OLT</text>
<text x="20.50" y="1206.70" font-size="7.3" font-weight="700" textLength="42.10" lengthAdjust="spacingAndGlyphs" fill="#222" >Suspected</text>
<text x="20.50" y="1222.10" font-size="7.3" font-weight="700" textLength="77.70" lengthAdjust="spacingAndGlyphs" fill="#222" >choledocholithiasis</text>
<text x="152.80" y="1112.20" font-size="7.3" font-weight="700" textLength="44.70" lengthAdjust="spacingAndGlyphs" fill="#222" >HR (95%CI)</text>
<text x="266.10" y="1112.20" font-size="7.3" font-weight="700" textLength="29.00" lengthAdjust="spacingAndGlyphs" fill="#222" >p-value</text>
<text x="145.90" y="1128.10" font-size="7.3" textLength="59.10" lengthAdjust="spacingAndGlyphs" fill="#222" >1.01 (0.98-1.06)</text>
<text x="145.90" y="1143.90" font-size="7.3" textLength="59.10" lengthAdjust="spacingAndGlyphs" fill="#222" >1.31 (0.51-3.42)</text>
<text x="144.40" y="1175.20" font-size="7.3" textLength="64.00" lengthAdjust="spacingAndGlyphs" fill="#222" >1.66 (0.484-5.71)</text>
<text x="144.40" y="1207.00" font-size="7.3" textLength="62.00" lengthAdjust="spacingAndGlyphs" fill="#222" >8.08(1.80-36.17)</text>
<text x="270.50" y="1128.10" font-size="7.3" textLength="20.40" lengthAdjust="spacingAndGlyphs" fill="#222" >0.365</text>
<text x="270.50" y="1143.90" font-size="7.3" textLength="20.40" lengthAdjust="spacingAndGlyphs" fill="#222" >0.575</text>
<text x="270.50" y="1175.20" font-size="7.3" textLength="20.40" lengthAdjust="spacingAndGlyphs" fill="#222" >0.419</text>
<text x="270.20" y="1207.00" font-size="7.3" font-weight="700" textLength="21.00" lengthAdjust="spacingAndGlyphs" fill="#222" >0.006</text>
<rect x="98.20" y="1123.40" width="18.80" height="5.50" fill="#000" rx="2.75" />
<rect x="98.20" y="1149.50" width="18.80" height="5.30" fill="#ebebeb" rx="2.6499999999999773" />
<rect x="98.40" y="1185.80" width="18.60" height="5.60" fill="#808080" rx="2.800000000000068" />
<rect x="98.40" y="1208.40" width="18.60" height="5.50" fill="#cdcdcd" rx="2.75" />
</svg>
</body></html>
